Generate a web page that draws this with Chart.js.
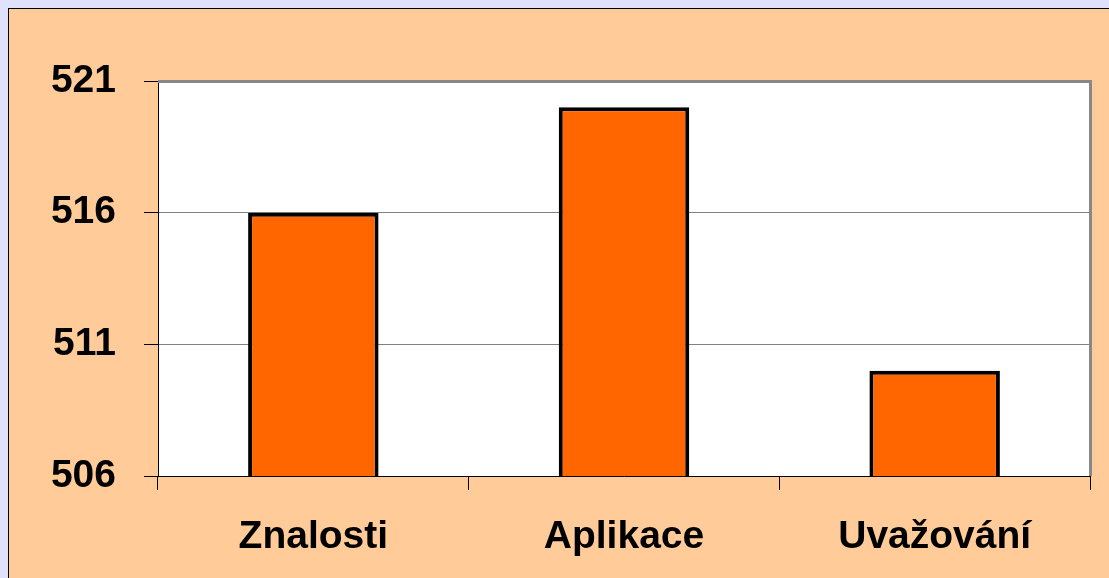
<!DOCTYPE html>
<html>
<head>
<meta charset="utf-8">
<script src="https://cdn.jsdelivr.net/npm/chart.js@4"></script>
<style>
    html, body { margin: 0; padding: 0; background: #dfe2fa; overflow: hidden; }
    #panel {
        position: absolute; left: 8px; top: 8px; width: 1101px; height: 570px;
        background: #ffcc99; border-left: 1px solid #000; border-top: 1px solid #000;
        box-sizing: border-box;
    }
    #wrap { position: absolute; left: 0; top: 0; width: 1100px; height: 569px; }
</style>
</head>
<body>
<div id="panel"><div id="wrap"><canvas id="scoreChart"></canvas></div></div>
<script>
const categories = ['Znalosti', 'Aplikace', 'Uvažování'];
const scores = [516, 520, 510];
const yMin = 506;
const yMax = 521;
const yStep = 5;

// white plot area with a grey frame on top and right
const plotFrame = {
    id: 'plotFrame',
    beforeDraw(chart) {
        const a = chart.chartArea;
        const c = chart.ctx;
        c.save();
        c.fillStyle = '#ffffff';
        c.fillRect(a.left, a.top, a.right - a.left, a.bottom - a.top);
        c.restore();
    },
    afterDatasetsDraw(chart) {
        const a = chart.chartArea;
        const c = chart.ctx;
        c.save();
        c.strokeStyle = '#888888';
        c.lineWidth = 3;
        c.beginPath();
        c.moveTo(a.left, a.top + 0.5);
        c.lineTo(a.right + 0.5, a.top + 0.5);
        c.lineTo(a.right + 0.5, a.bottom);
        c.stroke();
        c.restore();
    }
};

document.addEventListener('DOMContentLoaded', () => {
    const ctx = document.getElementById('scoreChart').getContext('2d');
    const font = { family: "'Liberation Sans', Arial, sans-serif", size: 39, weight: 'bold' };

    new Chart(ctx, {
        type: 'bar',
        data: {
            labels: categories,
            datasets: [{
                data: scores,
                backgroundColor: '#ff6600',
                borderColor: '#000000',
                borderWidth: 4,
                borderSkipped: false,
                barPercentage: 0.42,
                categoryPercentage: 1
            }]
        },
        options: {
            responsive: true,
            maintainAspectRatio: false,
            animation: false,
            layout: { padding: { top: 72, right: 19, left: 0, bottom: 0 } },
            plugins: { legend: { display: false }, tooltip: { enabled: false } },
            scales: {
                x: {
                    grid: { drawOnChartArea: false, drawTicks: true, tickLength: 14, tickColor: '#000', offset: true },
                    border: { color: '#000', width: 1 },
                    ticks: { color: '#000', font: font, padding: 24, maxRotation: 0 },
                    afterFit(scale) { scale.height = 102; }
                },
                y: {
                    min: yMin,
                    max: yMax,
                    grid: { color: '#808080', lineWidth: 1, tickLength: 14, tickColor: '#000' },
                    border: { color: '#000', width: 1 },
                    ticks: { stepSize: yStep, color: '#000', font: font, padding: 28 },
                    afterFit(scale) { scale.width = 149; }
                }
            }
        },
        plugins: [plotFrame]
    });
});
</script>
</body>
</html>
